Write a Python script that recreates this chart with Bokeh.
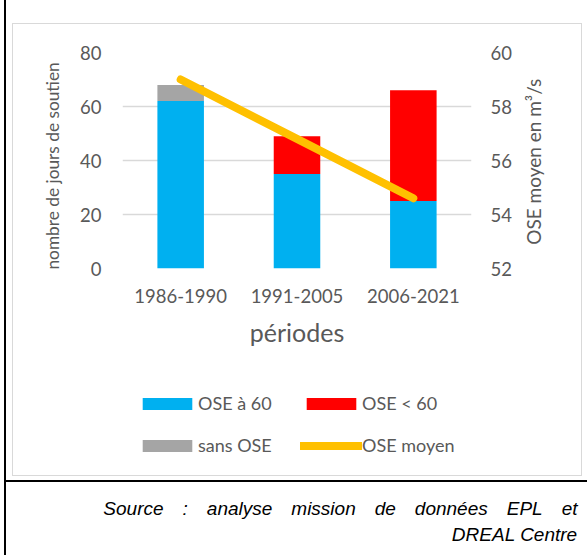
import math
from bokeh.plotting import figure
from bokeh.layouts import column
from bokeh.models import (FactorRange, Range1d, LinearAxis, Legend, LegendItem,
                          Title, FixedTicker, ColumnDataSource, InlineStyleSheet)
from bokeh.embed import file_html
from bokeh.resources import INLINE

# ---- data ----
periods = ["1986-1990", "1991-2005", "2006-2021"]
ose_a_60 = [62, 35, 25]
ose_inf_60 = [0, 14, 41]
sans_ose = [6, 0, 0]
ose_moyen = [59.0, 56.8, 54.6]
left_ticks = [0, 20, 40, 60, 80]
right_ticks = [52, 54, 56, 58, 60]
series_labels = ["OSE à 60", "OSE < 60", "sans OSE", "OSE moyen"]
bar_colors = ["#00B0F0", "#FF0000", "#A5A5A5"]
line_color = "#FFC000"
# first line of the note is justified in the original (wide word gaps)
source_lines = ["Source\u2003:\u2003analyse\u2003mission\u2003de\u2003données\u2003EPL\u2003et",
                "DREAL Centre"]

# ---- layout (px) ----
W, H = 587, 555
H1 = 370            # chart figure
H2 = H - H1         # legend + source figure
FL, FR, FT, FB = 122, 471, 52, 268
FONT = "Lato"
GREY_TXT = "#595959"

p = figure(x_range=FactorRange(factors=periods, range_padding=0), y_range=Range1d(0, 80),
           width=W, height=H1, output_backend="svg", toolbar_location=None,
           min_border_left=FL, min_border_right=W - FR, min_border_top=FT,
           min_border_bottom=H1 - FB)
p.outline_line_color = None
p.background_fill_color = "white"
p.border_fill_color = "white"
p.extra_y_ranges = {"ose": Range1d(52, 60)}

src = ColumnDataSource(dict(period=periods, a=ose_a_60, r=ose_inf_60, g=sans_ose, m=ose_moyen))
bars = p.vbar_stack(["a", "r", "g"], x="period", width=0.4, source=src,
                    color=bar_colors, line_color=None)
ln = p.line(x="period", y="m", source=src, y_range_name="ose", line_width=8,
            line_color=line_color, line_cap="round", line_join="round")

p.xgrid.visible = False
p.ygrid.ticker = FixedTicker(ticks=left_ticks)
p.ygrid.grid_line_color = "#D9D9D9"
p.ygrid.grid_line_width = 1.5

def style_axis(ax):
    ax.axis_line_color = None
    ax.major_tick_line_color = None
    ax.minor_tick_line_color = None
    ax.major_tick_out = 0
    ax.major_tick_in = 0
    ax.minor_tick_out = 0
    ax.major_label_text_font = FONT
    ax.major_label_text_font_size = "18.5px"
    ax.major_label_text_color = GREY_TXT
    ax.axis_label_text_font = FONT
    ax.axis_label_text_font_style = "normal"
    ax.axis_label_text_color = GREY_TXT

HAS_ALIGN = "axis_label_align" in LinearAxis().properties()

ly = p.yaxis[0]
style_axis(ly)
ly.ticker = FixedTicker(ticks=left_ticks)
ly.axis_label = "nombre de jours de soutien\u2002\u2009"
ly.axis_label_text_font_size = "17.3px"
ly.major_label_standoff = 21
ly.axis_label_standoff = 14

ry = LinearAxis(y_range_name="ose", ticker=FixedTicker(ticks=right_ticks))
style_axis(ry)
ry.axis_label_text_font_size = "19px"
ry.major_label_standoff = 19
if HAS_ALIGN:
    ry.axis_label = "\u2002\u2002\u2005OSE moyen en m³/s"
    ry.axis_label_orientation = math.pi / 2
    ry.axis_label_align = "start"
    ry.axis_label_standoff = 19
else:
    ry.axis_label = "OSE moyen en m³/s"
    ry.axis_label_standoff = 16
p.add_layout(ry, "right")

bx = p.xaxis[0]
style_axis(bx)
bx.axis_label = "périodes"
bx.axis_label_text_font_size = "25px"
bx.major_label_standoff = 20
bx.axis_label_standoff = 11

# ---- second figure: legend + source note ----
P2_BOTTOM = 60
p2 = figure(x_range=Range1d(0, 1), y_range=Range1d(0, 1), width=W, height=H2,
            output_backend="svg", toolbar_location=None, x_axis_type=None, y_axis_type=None,
            min_border_left=FL, min_border_right=W - FR, min_border_top=0,
            min_border_bottom=P2_BOTTOM)
p2.grid.visible = False
p2.outline_line_color = None
p2.background_fill_color = "white"
p2.border_fill_color = "white"

# zero-size proxies so that the legend can show the swatches
k_bars = [p2.vbar(x=[0], top=[0], width=0, color=c, line_color=None) for c in bar_colors]
k_line = p2.line(x=[0], y=[0], line_width=8, line_color=line_color, line_cap="round")

frame_bottom2 = H - P2_BOTTOM
legend = Legend(items=[
    LegendItem(label=series_labels[0], renderers=[k_bars[0]]),
    LegendItem(label=series_labels[1], renderers=[k_bars[1]]),
    LegendItem(label=series_labels[2], renderers=[k_bars[2]]),
    LegendItem(label=series_labels[3], renderers=[k_line]),
], orientation="horizontal", ncols=2, location=(136 - FL, frame_bottom2 - 456),
    glyph_width=62, glyph_height=15, label_standoff=0, label_width=82, spacing=20,
    padding=0, margin=0, border_line_color=None, background_fill_alpha=0,
    label_text_font=FONT, label_text_font_size="18px", label_text_color=GREY_TXT)
p2.add_layout(legend)

for txt, so in zip(source_lines, [0, 6]):
    p2.add_layout(Title(text=txt, align="right", offset=-(577 - FR), standoff=so,
                        text_font="Liberation Sans", text_font_style="italic",
                        text_font_size="19px", text_color="black"), "below")

# decorative page frame (table borders around the chart)
css = """
:host { position: relative; }
:host::before {
  content: ""; position: absolute; left: 12px; top: 23px; width: 569.5px; height: 453px;
  border: 1.5px solid #D9D9D9; box-sizing: border-box; pointer-events: none; z-index: 100;
}
:host::after {
  content: ""; position: absolute; left: 0; top: 0; width: 587px; height: 555px;
  pointer-events: none; z-index: 100;
  background:
    linear-gradient(#000, #000) 3.7px 0 / 2px 555px no-repeat,
    linear-gradient(#000, #000) 3.7px 480px / 584px 2px no-repeat;
}
"""
layout = column(p, p2, spacing=0)
layout.stylesheets = [InlineStyleSheet(css=css)]

open("out.html", "w").write(file_html(layout, INLINE))
